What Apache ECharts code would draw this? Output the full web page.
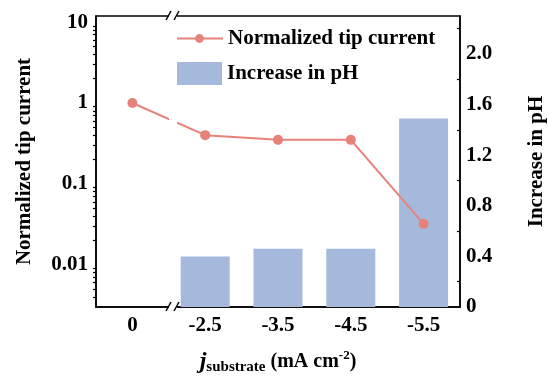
<!DOCTYPE html>
<html>
<head>
<meta charset="utf-8">
<script src="https://cdn.jsdelivr.net/npm/echarts@6/dist/echarts.min.js"></script>
<style>
  html, body { margin: 0; padding: 0; background: #fff; }
  #chart { width: 548px; height: 381px; }
</style>
</head>
<body>
<div id="chart"></div>
<script>
const categories = ['0', '-2.5', '-3.5', '-4.5', '-5.5'];
const tipCurrent = [1.0, 0.40, 0.35, 0.35, 0.032];
const phIncrease = [null, 0.40, 0.46, 0.46, 1.49];
const leftMinorTicks = [
  0.004, 0.005, 0.006, 0.007, 0.008, 0.009,
  0.02, 0.03, 0.04, 0.05, 0.06, 0.07, 0.08, 0.09,
  0.2, 0.3, 0.4, 0.5, 0.6, 0.7, 0.8, 0.9,
  2, 3, 4, 5, 6, 7, 8, 9
];

const font = 'Liberation Serif';
const lineColor = '#e6827a';
const barColor = '#a4b9dc';

const chart = echarts.init(document.getElementById('chart'));

const axisLine = { show: true, lineStyle: { color: '#000', width: 1.5 } };
const nameStyle = { fontFamily: font, fontSize: 21, fontWeight: 'bold', color: '#000' };

const option = {
  animation: false,
  textStyle: { fontFamily: font },
  grid: {
    left: 96, right: 88, top: 16, bottom: 74,
    containLabel: false, outerBoundsMode: 'none',
    show: true, borderColor: '#000', borderWidth: 1.5
  },
  legend: [
    {
      data: ['Normalized tip current'],
      left: 175, top: 28, padding: 0,
      itemWidth: 47, itemHeight: 11,
      textStyle: nameStyle
    },
    {
      data: ['Increase in pH'],
      left: 175, top: 62, padding: 0,
      icon: 'rect',
      itemWidth: 47, itemHeight: 23,
      textStyle: nameStyle
    }
  ],
  xAxis: {
    type: 'category',
    data: categories,
    axisLine,
    axisTick: { alignWithLabel: true, length: 5, lineStyle: { color: '#000', width: 1.5 } },
    axisLabel: { color: '#000', fontSize: 21, fontWeight: 'bold', margin: 8 },
    name: '{j|j}{sub|substrate}{n| (mA cm}{sup|-2}{n|)}',
    nameLocation: 'middle',
    nameGap: 42,
    nameTextStyle: {
      rich: {
        j: { fontFamily: font, fontSize: 24, fontStyle: 'italic', fontWeight: 'bold', color: '#000', lineHeight: 26 },
        sub: { fontFamily: font, fontSize: 15, fontWeight: 'bold', color: '#000', verticalAlign: 'bottom', lineHeight: 26, padding: [8, 0, 0, 0] },
        n: { fontFamily: font, fontSize: 20, fontWeight: 'bold', color: '#000', lineHeight: 26 },
        sup: { fontFamily: font, fontSize: 13, fontWeight: 'bold', color: '#000', verticalAlign: 'top', lineHeight: 26, padding: [0, 0, 9, 0] }
      }
    }
  },
  yAxis: [
    {
      type: 'log',
      logBase: 10,
      min: 0.003,
      max: 11.9,
      position: 'left',
      axisLine,
      axisTick: { length: 5, lineStyle: { color: '#000', width: 1.5 } },
      axisLabel: { color: '#000', fontSize: 21, fontWeight: 'bold', margin: 8, showMinLabel: false, showMaxLabel: false,
        formatter: v => String(+v.toPrecision(1)) },
      splitLine: { show: false },
      name: 'Normalized tip current',
      nameLocation: 'middle',
      nameGap: 61,
      nameTextStyle: nameStyle
    },
    {
      type: 'value',
      min: 0,
      max: 2.3,
      interval: 0.4,
      position: 'right',
      axisLine,
      axisTick: { inside: true, length: 5, lineStyle: { color: '#000', width: 1.5 } },
      minorTick: { show: true, splitNumber: 2, length: 3, lineStyle: { color: '#000', width: 1.2 } },
      axisLabel: { color: '#000', fontSize: 21, fontWeight: 'bold', margin: 6, showMaxLabel: false,
        formatter: v => (v === 0 ? '0' : v.toFixed(1)) },
      splitLine: { show: false },
      name: 'Increase in pH',
      nameLocation: 'middle',
      nameGap: 66,
      nameRotate: 90,
      nameTextStyle: nameStyle
    },
    {
      // minor ticks for the log axis
      type: 'log',
      logBase: 10,
      min: 0.003,
      max: 11.9,
      position: 'left',
      axisLine: { show: false },
      axisTick: { show: true, length: 3, customValues: leftMinorTicks, lineStyle: { color: '#000', width: 1.2 } },
      axisLabel: { show: false },
      splitLine: { show: false }
    }
  ],
  series: [
    {
      name: 'Increase in pH',
      type: 'bar',
      yAxisIndex: 1,
      data: phIncrease,
      barWidth: 49,
      itemStyle: { color: barColor },
      z: 1
    },
    {
      name: 'Normalized tip current',
      type: 'line',
      yAxisIndex: 0,
      data: tipCurrent,
      symbol: 'circle',
      symbolSize: 10,
      lineStyle: { color: lineColor, width: 2 },
      itemStyle: { color: lineColor },
      z: 3
    }
  ],
  graphic: [
    { type: 'rect', shape: { x: 169, y: 8, width: 8, height: 306 }, style: { fill: '#fff' }, z: 100 },
    { type: 'line', shape: { x1: 166, y1: 20, x2: 171, y2: 11 }, style: { stroke: '#000', lineWidth: 1.5 }, z: 101 },
    { type: 'line', shape: { x1: 174, y1: 20, x2: 179, y2: 11 }, style: { stroke: '#000', lineWidth: 1.5 }, z: 101 },
    { type: 'line', shape: { x1: 166, y1: 311, x2: 171, y2: 302 }, style: { stroke: '#000', lineWidth: 1.5 }, z: 101 },
    { type: 'line', shape: { x1: 174, y1: 311, x2: 179, y2: 302 }, style: { stroke: '#000', lineWidth: 1.5 }, z: 101 }
  ]
};

chart.setOption(option);
</script>
</body>
</html>
